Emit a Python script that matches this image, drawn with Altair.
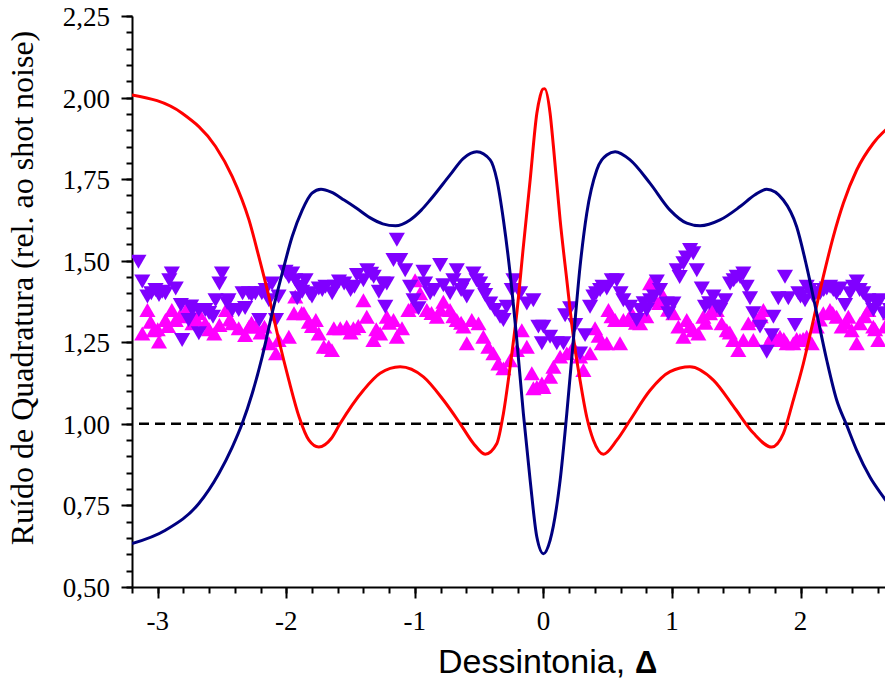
import altair as alt
import pandas as pd

# ---- theory curves ----
red_x = [-3.2, -2.81, -2.55, -2.42, -2.29, -2.213, -2.135, -2.058, -1.98, -1.90, -1.824, -1.747, -1.65, -1.581,
         -1.40, -1.27, -1.114, -0.933, -0.778, -0.648, -0.544, -0.453, -0.362, -0.311, -0.259, -0.207, -0.156,
         -0.103, -0.051, -0.026, -0.005, 0.01, 0.052, 0.078, 0.13, 0.182, 0.233, 0.285, 0.337, 0.389, 0.467,
         0.571, 0.674, 0.83, 0.985, 1.14, 1.322, 1.49, 1.633, 1.776, 1.866, 1.944, 2.022, 2.10, 2.177, 2.255,
         2.333, 2.437, 2.566, 2.72]
red_y = [2.008, 1.952, 1.85, 1.758, 1.625, 1.512, 1.39, 1.257, 1.134, 1.021, 0.95, 0.929, 0.955, 1.001,
         1.103, 1.155, 1.175, 1.144, 1.073, 1.001, 0.94, 0.907, 0.94, 1.032, 1.175, 1.339, 1.543,
         1.748, 1.952, 2.003, 2.026, 2.027, 1.952, 1.85, 1.625, 1.441, 1.267, 1.134, 1.021, 0.95, 0.907,
         0.95, 1.011, 1.103, 1.16, 1.175, 1.134, 1.047, 0.972, 0.929, 0.97, 1.073, 1.185, 1.318, 1.451, 1.574,
         1.676, 1.778, 1.86, 1.921]

navy_x = [-3.2, -2.94, -2.68, -2.524, -2.42, -2.343, -2.265, -2.187, -2.11, -2.032, -1.954, -1.876, -1.80,
          -1.73, -1.65, -1.55, -1.45, -1.35, -1.25, -1.15, -1.037, -0.95, -0.881, -0.726, -0.622, -0.518,
          -0.414, -0.362, -0.311, -0.259, -0.207, -0.156, -0.103, -0.051, 0.0, 0.052, 0.13, 0.182, 0.233,
          0.285, 0.337, 0.415, 0.493, 0.558, 0.674, 0.83, 0.985, 1.115, 1.219, 1.374, 1.53, 1.646, 1.737,
          1.866, 1.97, 2.048, 2.126, 2.204, 2.281, 2.359, 2.437, 2.54, 2.644, 2.72]
navy_y = [0.633, 0.674, 0.756, 0.848, 0.929, 1.001, 1.093, 1.206, 1.339, 1.461, 1.574, 1.655, 1.707,
          1.719, 1.710, 1.686, 1.660, 1.632, 1.613, 1.607, 1.625, 1.655, 1.686, 1.763, 1.814, 1.834,
          1.809, 1.748, 1.625, 1.461, 1.257, 1.032, 0.827, 0.653, 0.602, 0.643, 0.827, 1.032, 1.257,
          1.482, 1.645, 1.778, 1.824, 1.834, 1.809, 1.737, 1.655, 1.615, 1.607, 1.625, 1.666, 1.702, 1.719,
          1.686, 1.604, 1.482, 1.339, 1.195, 1.073, 0.996, 0.919, 0.837, 0.776, 0.735]

# ---- measured points: triangle-down (purple) ----
down_x = [-3.15, -3.12, -3.08, -3.017, -2.965, -2.91, -2.89, -2.86, -2.82, -2.81, -2.76, -2.73, -2.68, -2.68,
          -2.63, -2.57, -2.55, -2.52, -2.50, -2.45, -2.42, -2.37, -2.32, -2.29, -2.24, -2.21, -2.19, -2.135,
          -2.11, -2.08, -2.06, -2.006, -1.954, -1.93, -1.915, -1.876, -1.85, -1.80, -1.747, -1.695, -1.643,
          -1.59, -1.50, -1.45, -1.40, -1.37, -1.32, -1.28, -1.23, -1.218, -1.166, -1.14, -1.114, -1.075,
          -1.037, -1.01, -0.972, -0.933, -0.881, -0.803, -0.778, -0.726, -0.674, -0.622, -0.596, -0.544,
          -0.492, -0.453, -0.414, -0.376, -0.337, -0.311, -0.285, -0.246, -0.233, -0.181, -0.129, -0.078,
          -0.039, -0.012, 0.0, 0.052, 0.104, 0.156, 0.169, 0.208, 0.247, 0.285, 0.324, 0.363, 0.389, 0.441,
          0.493, 0.532, 0.571, 0.622, 0.674, 0.726, 0.752, 0.804, 0.83, 0.882, 0.907, 0.959, 0.972, 1.011,
          1.037, 1.089, 1.141, 1.166, 1.193, 1.232, 1.257, 1.322, 1.374, 1.413, 1.452, 1.504, 1.555, 1.581,
          1.607, 1.633, 1.685, 1.737, 1.776, 1.789, 1.827, 1.879, 1.905, 1.957, 1.983, 2.035, 2.048, 2.10,
          2.152, 2.204, 2.255, 2.307, 2.346, 2.385, 2.437, 2.488, 2.527, 2.566, 2.618, 2.644, 2.696,
          -3.05, -2.99, -2.94, -2.74, -2.60, -2.46, -2.34, -2.27, -2.16, -1.98, -1.90, -1.82, -1.72, -1.62,
          -1.55, -1.47, -1.34, -1.25, -0.92, -0.85, -0.70, -0.64, -0.52, -0.47, 0.41, 0.46, 0.60, 0.78,
          0.86, 1.06, 1.11, 1.29, 1.35, 1.48, 1.53, 2.00, 2.07, 2.13, 2.18, 2.23, 2.28, 2.41, 2.46, 2.59]
down_y = [1.497, 1.436, 1.39, 1.41, 1.405, 1.44, 1.461, 1.415, 1.364, 1.257, 1.318, 1.349, 1.349, 1.278,
          1.349, 1.328, 1.379, 1.43, 1.461, 1.379, 1.349, 1.349, 1.355, 1.40, 1.40, 1.318, 1.40, 1.379,
          1.43, 1.318, 1.39, 1.466, 1.461, 1.44, 1.385, 1.405, 1.44, 1.39, 1.415, 1.42, 1.40,
          1.436, 1.41, 1.456, 1.44, 1.471, 1.451, 1.405, 1.359, 1.43, 1.502, 1.564, 1.502, 1.471,
          1.42, 1.379, 1.354, 1.466, 1.40, 1.487, 1.425, 1.40, 1.471, 1.425, 1.39, 1.461,
          1.43, 1.395, 1.369, 1.349, 1.328, 1.318, 1.359, 1.41, 1.44, 1.40, 1.369, 1.379,
          1.298, 1.247, 1.298, 1.267, 1.247, 1.247, 1.333, 1.354, 1.303, 1.216, 1.272, 1.359, 1.39, 1.41,
          1.415, 1.44, 1.44, 1.379, 1.359, 1.318, 1.349, 1.349, 1.379, 1.436, 1.41, 1.369, 1.339, 1.369,
          1.471, 1.492, 1.533, 1.523, 1.471, 1.415, 1.359, 1.39, 1.349, 1.379, 1.43, 1.451, 1.461, 1.42,
          1.385, 1.339, 1.298, 1.221, 1.272, 1.328, 1.385, 1.451, 1.385, 1.303, 1.40, 1.379, 1.42, 1.39,
          1.40, 1.415, 1.41, 1.415, 1.364, 1.40, 1.436, 1.40, 1.379, 1.349, 1.379, 1.339, 1.349,
          1.40, 1.395, 1.40, 1.36, 1.34, 1.37, 1.40, 1.395, 1.41, 1.45, 1.42, 1.40, 1.41, 1.42,
          1.43, 1.42, 1.46, 1.43, 1.43, 1.41, 1.44, 1.41, 1.44, 1.41, 1.40, 1.42, 1.40, 1.37,
          1.39, 1.45, 1.51, 1.37, 1.36, 1.44, 1.45, 1.39, 1.41, 1.40, 1.41, 1.42, 1.40, 1.42, 1.41, 1.37]

# ---- measured points: triangle-up (magenta) ----
up_x = [-3.12, -3.08, -3.056, -3.03, -2.99, -2.94, -2.89, -2.86, -2.78, -2.73, -2.68, -2.63, -2.56, -2.52,
        -2.47, -2.42, -2.37, -2.32, -2.29, -2.24, -2.17, -2.135, -2.08, -2.06, -1.98, -1.94, -1.93, -1.863,
        -1.824, -1.77, -1.747, -1.708, -1.67, -1.645, -1.63, -1.58, -1.53, -1.478, -1.40, -1.374, -1.322,
        -1.27, -1.218, -1.166, -1.14, -1.10, -1.05, -0.998, -0.959, -0.907, -0.829, -0.778, -0.726, -0.674,
        -0.622, -0.596, -0.557, -0.505, -0.467, -0.428, -0.389, -0.35, -0.311, -0.259, -0.207, -0.168,
        -0.129, -0.09, -0.078, -0.051, -0.012, 0.0, 0.052, 0.078, 0.13, 0.182, 0.233, 0.285, 0.311, 0.363,
        0.402, 0.454, 0.493, 0.506, 0.558, 0.596, 0.622, 0.687, 0.752, 0.83, 0.869, 0.933, 1.011, 1.05,
        1.089, 1.115, 1.166, 1.205, 1.244, 1.296, 1.348, 1.387, 1.426, 1.477, 1.516, 1.555, 1.594, 1.633,
        1.659, 1.711, 1.763, 1.815, 1.84, 1.892, 1.944, 1.996, 2.048, 2.087, 2.126, 2.177, 2.229, 2.281,
        2.32, 2.372, 2.398, 2.437, 2.462, 2.527, 2.566, 2.605, 2.657, 2.696,
        -3.0, -2.92, -2.83, -2.70, -2.60, -2.44, -2.27, -2.20, -1.88, -1.80, -1.50, -1.44, -1.30, -1.20,
        -1.02, -0.87, -0.80, -0.70, -0.64, 0.43, 0.53, 0.66, 0.72, 0.80, 0.90, 0.97, 1.14, 1.26, 1.32,
        1.45, 1.69, 1.78, 1.87, 1.97, 2.02, 2.15, 2.25, 2.35, 2.50, 2.58]
up_y = [1.277, 1.349, 1.313, 1.287, 1.252, 1.318, 1.349, 1.318, 1.349, 1.308, 1.339, 1.308, 1.277, 1.303,
        1.349, 1.308, 1.293, 1.272, 1.298, 1.298, 1.298, 1.247, 1.216, 1.257, 1.267, 1.339, 1.39, 1.339,
        1.313, 1.318, 1.277, 1.236, 1.236, 1.226, 1.293, 1.293, 1.298, 1.293, 1.379, 1.328, 1.257,
        1.277, 1.328, 1.318, 1.267, 1.293, 1.349, 1.44, 1.40, 1.349, 1.328, 1.374, 1.349, 1.318,
        1.298, 1.247, 1.318, 1.308, 1.267, 1.236, 1.216, 1.185, 1.17, 1.195, 1.226, 1.287,
        1.236, 1.155, 1.109, 1.113, 1.124, 1.113, 1.144, 1.175, 1.206, 1.216, 1.236, 1.206, 1.165, 1.216,
        1.293, 1.247, 1.247, 1.349, 1.318, 1.247, 1.318, 1.339, 1.308, 1.431, 1.379, 1.39, 1.339, 1.298,
        1.267, 1.318, 1.287, 1.277, 1.328, 1.339, 1.349, 1.308, 1.287, 1.257, 1.226, 1.257, 1.308, 1.257,
        1.318, 1.349, 1.257, 1.257, 1.267, 1.247, 1.247, 1.257, 1.267, 1.247, 1.298, 1.339, 1.349, 1.328,
        1.298, 1.328, 1.287, 1.247, 1.308, 1.349, 1.298, 1.257, 1.298, 1.339,
        1.29, 1.30, 1.33, 1.32, 1.29, 1.32, 1.31, 1.28, 1.34, 1.30, 1.28, 1.30, 1.29, 1.31,
        1.36, 1.34, 1.35, 1.33, 1.31, 1.27, 1.33, 1.32, 1.31, 1.33, 1.37, 1.35, 1.30, 1.31, 1.35,
        1.28, 1.33, 1.27, 1.26, 1.26, 1.26, 1.32, 1.34, 1.31, 1.33, 1.29]

shot_noise = [1.0]

# ---- axes ----
x_domain = [-3.2, 2.657]
y_domain = [0.5, 2.25]
x_major = [-3, -2, -1, 0, 1, 2]
x_major_labels = ["-3", "-2", "-1", "0", "1", "2"]
x_minor = [round(-3.2 + 0.2 * i, 1) for i in range(30)]
y_major = [0.5, 0.75, 1.0, 1.25, 1.5, 1.75, 2.0, 2.25]
y_major_labels = ["0,50", "0,75", "1,00", "1,25", "1,50", "1,75", "2,00", "2,25"]
y_minor = [round(0.5 + 0.05 * i, 2) for i in range(36)]

x_title = ["Dessintonia,"]
x_title_symbol = ["Δ"]
y_title = ["Ruído de Quadratura (rel. ao shot noise)"]

red_df = pd.DataFrame({"x": red_x, "y": red_y})
navy_df = pd.DataFrame({"x": navy_x, "y": navy_y})
down_df = pd.DataFrame({"x": down_x, "y": down_y})
up_df = pd.DataFrame({"x": up_x, "y": up_y})
rule_df = pd.DataFrame({"y": shot_noise})
xlab_df = pd.DataFrame({"v": x_major, "lab": x_major_labels})
ylab_df = pd.DataFrame({"v": y_major, "lab": y_major_labels})

xs = alt.Scale(domain=x_domain, nice=False, zero=False)
ys = alt.Scale(domain=y_domain, nice=False, zero=False)

SERIF = "Liberation Serif"
SANS = "Liberation Sans"

x_axis_major = alt.Axis(orient="bottom", values=x_major, tickSize=11, tickWidth=2, tickColor="black",
                        domainColor="black", domainWidth=2, labels=False, grid=False, title=None)
y_axis_major = alt.Axis(orient="left", values=y_major, tickSize=11, tickWidth=2, tickColor="black",
                        domainColor="black", domainWidth=2, labels=False, grid=False, title=None)
x_axis_minor = alt.Axis(orient="bottom", values=x_minor, tickSize=6, tickWidth=2, tickColor="black",
                        domain=False, labels=False, grid=False, title=None)
y_axis_minor = alt.Axis(orient="left", values=y_minor, tickSize=6, tickWidth=2, tickColor="black",
                        domain=False, labels=False, grid=False, title=None)

up_layer = alt.Chart(up_df).mark_point(shape="triangle-up", filled=True, size=260, opacity=1,
                                       color="#FF00FF", clip=True).encode(
    x=alt.X("x:Q", scale=xs, axis=x_axis_minor),
    y=alt.Y("y:Q", scale=ys, axis=y_axis_minor),
)
down_layer = alt.Chart(down_df).mark_point(shape="triangle-down", filled=True, size=260, opacity=1,
                                           color="#8000FF", clip=True).encode(
    x=alt.X("x:Q", scale=xs, axis=None),
    y=alt.Y("y:Q", scale=ys, axis=None),
)
rule_layer = alt.Chart(rule_df).mark_rule(color="black", strokeWidth=2.5, strokeDash=[10, 6]).encode(
    y=alt.Y("y:Q", scale=ys, axis=None),
)
red_layer = alt.Chart(red_df).mark_line(color="#FF0000", strokeWidth=3, interpolate="monotone",
                                        clip=True).encode(
    x=alt.X("x:Q", scale=xs, axis=x_axis_major),
    y=alt.Y("y:Q", scale=ys, axis=y_axis_major),
    order="x:Q",
)
navy_layer = alt.Chart(navy_df).mark_line(color="#000080", strokeWidth=3, interpolate="monotone",
                                          clip=True).encode(
    x=alt.X("x:Q", scale=xs, axis=None),
    y=alt.Y("y:Q", scale=ys, axis=None),
    order="x:Q",
)
xlab_layer = alt.Chart(xlab_df).mark_text(font=SERIF, fontSize=27, align="center", baseline="alphabetic",
                                          color="black").encode(
    x=alt.X("v:Q", scale=xs, axis=None), y=alt.value(614), text="lab:N")
ylab_layer = alt.Chart(ylab_df).mark_text(font=SERIF, fontSize=27, align="right", baseline="alphabetic",
                                          dy=10, color="black").encode(
    x=alt.value(-22), y=alt.Y("v:Q", scale=ys, axis=None), text="lab:N")
ytitle_layer = alt.Chart(pd.DataFrame({"t": y_title})).mark_text(
    font=SERIF, fontSize=32, angle=270, align="center", baseline="alphabetic", color="black").encode(
    x=alt.value(-99), y=alt.value(272), text="t:N")
title_layer = alt.Chart(pd.DataFrame({"t": x_title})).mark_text(
    font=SANS, fontSize=34, align="left", baseline="alphabetic", color="black").encode(
    x=alt.value(306), y=alt.value(657), text="t:N")
symbol_layer = alt.Chart(pd.DataFrame({"t": x_title_symbol})).mark_text(
    font=SANS, fontSize=31, fontWeight="bold", align="left", baseline="alphabetic",
    color="black").encode(
    x=alt.value(503), y=alt.value(657), text="t:N")

chart = alt.layer(up_layer, down_layer, rule_layer, red_layer, navy_layer, xlab_layer, ylab_layer,
                  ytitle_layer, title_layer, symbol_layer).resolve_axis(
    x="independent", y="independent"
).properties(
    width=753, height=571,
    autosize=alt.AutoSizeParams(type="none"),
    padding={"left": 124, "top": 8, "right": 0, "bottom": 95},
    background="white",
).configure_view(stroke=None)

chart.save("out.html", embed_options={"renderer": "svg", "actions": False})
